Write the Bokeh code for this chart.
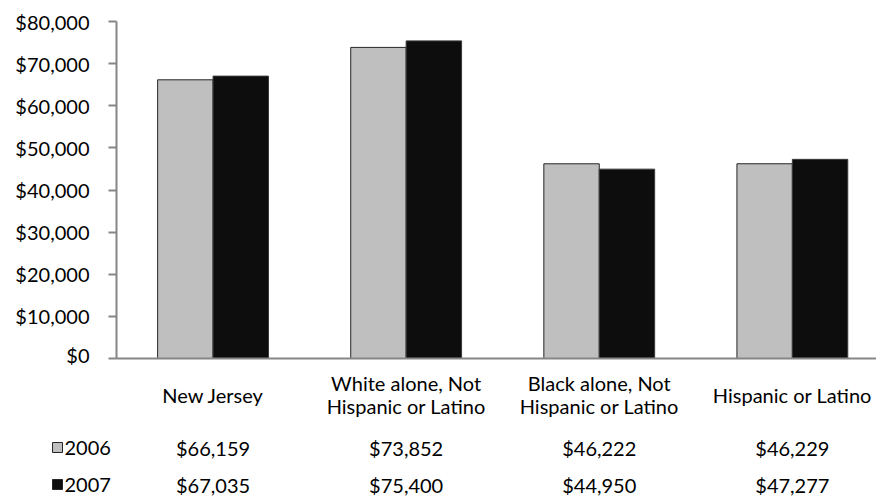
import numpy as np
from bokeh.plotting import figure
from bokeh.layouts import column
from bokeh.models import Range1d, FixedTicker, NumeralTickFormatter
from bokeh.core.properties import value
from bokeh.embed import file_html
from bokeh.resources import INLINE

# ---- data ----
categories = ["New Jersey", "White alone, Not\nHispanic or Latino",
              "Black alone, Not\nHispanic or Latino", "Hispanic or Latino"]
series_names = ["2006", "2007"]
values_2006 = [66159, 73852, 46222, 46229]
values_2007 = [67035, 75400, 44950, 47277]
y_ticks = [0, 10000, 20000, 30000, 40000, 50000, 60000, 70000, 80000]

# ---- layout constants (pixels) ----
FONT = value("Lato")
FS = "20px"
W = 876
AXIS_X = 116          # canvas x of the y axis
CAT_W = 193.1         # pixel width of one category
TOP_BORDER = 21
FRAME_H = 337
TOP_BOTTOM = 8
TOP_H = TOP_BORDER + FRAME_H + TOP_BOTTOM
BOT_H = 496 - TOP_H
BOT_LEFT = 40
gray, black = "#BFBFBF", "#0D0D0D"
bw = 0.287

idx = np.arange(len(categories)) + 0.5
x_end = (W - AXIS_X) / CAT_W

# ---- top figure: bars ----
p = figure(width=W, height=TOP_H, output_backend="svg", toolbar_location=None,
           x_range=Range1d(0, x_end), y_range=Range1d(0, 80000),
           min_border_left=AXIS_X, min_border_right=0,
           min_border_top=TOP_BORDER, min_border_bottom=TOP_BOTTOM)
p.frame_align = False
p.outline_line_color = None
p.grid.grid_line_color = None

p.vbar(x=idx - bw / 2, top=values_2006, width=bw, fill_color=gray,
       line_color="#262626", line_width=1)
p.vbar(x=idx + bw / 2, top=values_2007, width=bw, fill_color=black,
       line_color="#3a3a3a", line_width=1)

ya = p.yaxis[0]
ya.ticker = FixedTicker(ticks=y_ticks)
ya.formatter = NumeralTickFormatter(format="$0,0")
ya.axis_line_color = "#868686"
ya.axis_line_width = 2
ya.major_tick_line_color = "#868686"
ya.major_tick_line_width = 2
ya.major_tick_out = 8
ya.major_tick_in = 0
ya.minor_tick_line_color = None
ya.major_label_standoff = 19
ya.major_label_text_font = "Lato"
ya.major_label_text_font_size = FS
ya.major_label_text_color = "black"

xa = p.xaxis[0]
xa.ticker = FixedTicker(ticks=[])
xa.axis_line_color = "#868686"
xa.axis_line_width = 2
xa.major_tick_line_color = None
xa.minor_tick_line_color = None
xa.major_label_text_font_size = "0px"
xa.major_label_standoff = 0

# ---- bottom figure: category labels and data table ----
bx_start = -(AXIS_X - BOT_LEFT) / CAT_W
q = figure(width=W, height=BOT_H, output_backend="svg", toolbar_location=None,
           x_range=Range1d(bx_start, x_end), y_range=Range1d(BOT_H, 0),
           x_axis_location=None, y_axis_location=None,
           min_border_left=BOT_LEFT, min_border_right=0, min_border_top=0,
           min_border_bottom=0)
q.frame_align = False
q.outline_line_color = None
q.grid.grid_line_color = None

LABEL_Y = 394 - TOP_H
ROW_Y = [447 - TOP_H, 484 - TOP_H]

q.text(x=idx, y=[LABEL_Y] * len(categories), text=categories, text_font=FONT,
       text_font_size=FS, text_align="center", text_baseline="middle",
       text_line_height=0.96, text_color="black")

for row_y, vals in zip(ROW_Y, [values_2006, values_2007]):
    q.text(x=idx, y=[row_y] * len(vals), text=[f"${v:,}" for v in vals],
           text_font=FONT, text_font_size=FS, text_align="center",
           text_baseline="middle", text_color="black")

sq_x = bx_start + (57 - BOT_LEFT) / CAT_W
lab_x = bx_start + (64 - BOT_LEFT) / CAT_W
q.scatter(x=[sq_x] * 2, y=ROW_Y, marker="square", size=10,
          fill_color=[gray, black], line_color="#262626", line_width=1)
q.text(x=[lab_x] * 2, y=ROW_Y, text=series_names, text_font=FONT,
       text_font_size=FS, text_align="left", text_baseline="middle",
       text_color="black")

layout = column(p, q, spacing=0)
open("out.html", "w").write(file_html(layout, INLINE))
